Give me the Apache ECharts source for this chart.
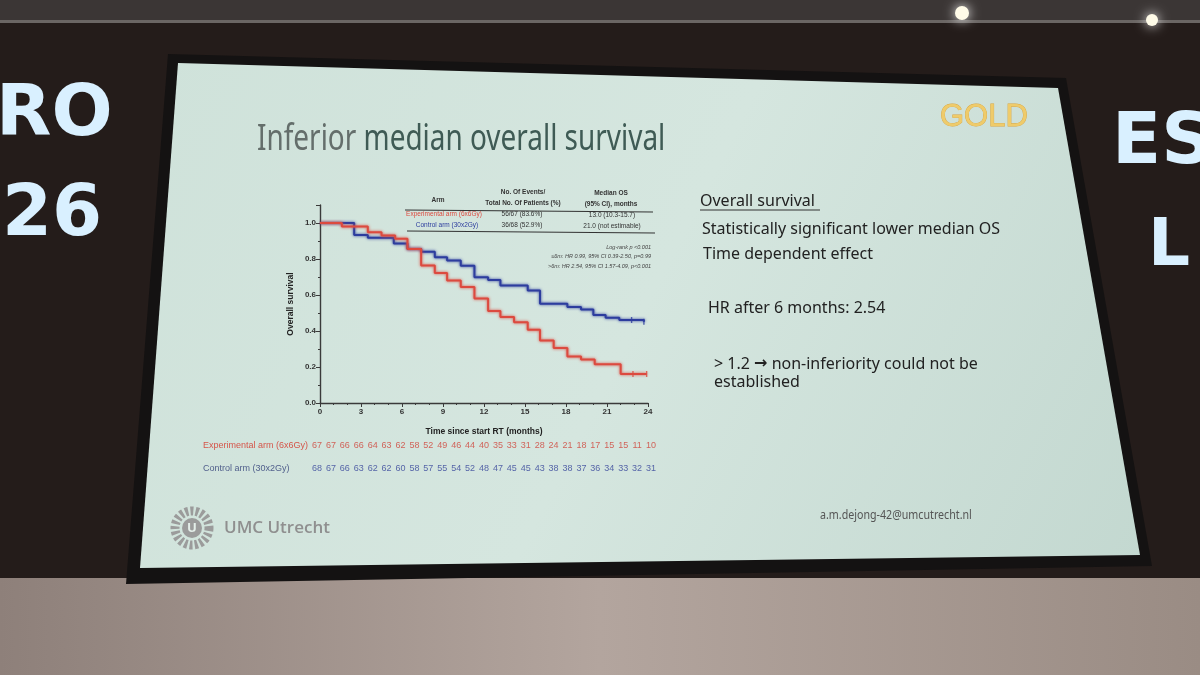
<!DOCTYPE html>
<html>
<head>
<meta charset="utf-8">
<title>Inferior median overall survival</title>
<script src="https://cdn.jsdelivr.net/npm/echarts@6/dist/echarts.min.js"></script>
<style>
html, body { margin: 0; padding: 0; background: #241c1a; }
#main { width: 1200px; height: 675px; }
</style>
</head>
<body>
<div id="main"></div>
<script>
// Kaplan-Meier steps (months, overall survival)
var redTimes = [0, 1.6, 3.5, 4.5, 5.5, 6.4, 7.4, 8.4, 9.3, 10.3, 11.3, 12.3, 13.2, 14.2, 15.2, 16.1, 17.1, 18.1, 19.1, 20.1, 22.0, 23.9];
var redSurv = [1.0, 0.981, 0.949, 0.930, 0.912, 0.855, 0.764, 0.722, 0.680, 0.645, 0.581, 0.511, 0.478, 0.448, 0.407, 0.347, 0.305, 0.258, 0.242, 0.215, 0.161, 0.161];
var blueTimes = [0, 2.5, 3.5, 5.4, 6.4, 7.4, 8.4, 9.3, 10.3, 11.3, 12.3, 13.2, 15.2, 16.1, 18.1, 19.1, 20.0, 20.9, 21.9, 23.7];
var blueSurv = [1.0, 0.933, 0.918, 0.886, 0.855, 0.840, 0.810, 0.792, 0.762, 0.699, 0.684, 0.653, 0.625, 0.552, 0.533, 0.519, 0.489, 0.474, 0.461, 0.452];
var redCensor = [22.9, 23.9];
var blueCensor = [22.8, 23.7];

// numbers at risk
var riskMonths = [0, 1, 2, 3, 4, 5, 6, 7, 8, 9, 10, 11, 12, 13, 14, 15, 16, 17, 18, 19, 20, 21, 22, 23, 24];
var redAtRisk = [67, 67, 66, 66, 64, 63, 62, 58, 52, 49, 46, 44, 40, 35, 33, 31, 28, 24, 21, 18, 17, 15, 15, 11, 10];
var blueAtRisk = [68, 67, 66, 63, 62, 62, 60, 58, 57, 55, 54, 52, 48, 47, 45, 45, 43, 38, 38, 37, 36, 34, 33, 32, 31];
var armNames = ['Control arm (30x2Gy)', 'Experimental arm (6x6Gy)'];

// summary table
var tableArms = ['Experimental arm (6x6Gy)', 'Control arm (30x2Gy)'];
var tableEvents = ['56/67 (83.6%)', '36/68 (52.9%)'];
var tableMedian = ['13.0 (10.3-15.7)', '21.0 (not estimable)'];
var statLines = ['Log-rank p <0.001', '\u22646m: HR 0.99, 95% CI 0.39-2.50, p=0.99', '>6m: HR 2.54, 95% CI 1.57-4.09, p<0.001'];

var RED = '#dc4a3f';
var BLUE = '#2d3d9e';

function pairs(xs, ys) {
    return xs.map(function (x, i) { return [x, ys[i]]; });
}
// survival at a given time, from the step data
function survAt(times, surv, t) {
    var v = surv[0];
    for (var i = 0; i < times.length; i++) {
        if (times[i] <= t) v = surv[i];
    }
    return v;
}

var myChart = echarts.init(document.getElementById('main'));

var glow = { fill: '#d9f0ff', shadowBlur: 18, shadowColor: '#5fb4ff' };
function glowText(x, y, s, size) {
    return { type: 'text', left: x, top: y, z: -9, style: Object.assign({ text: s, font: 'bold ' + size + 'px "DejaVu Sans"' }, glow) };
}

var graphics = [
    // stage
    { type: 'rect', shape: { x: 0, y: 0, width: 1200, height: 20 }, style: { fill: '#3b3635' }, z: -10 },
    { type: 'rect', shape: { x: 0, y: 20, width: 1200, height: 3 }, style: { fill: '#6b6664' }, z: -10 },
    { type: 'circle', shape: { cx: 962, cy: 13, r: 7 }, style: { fill: '#fffbe8', shadowBlur: 12, shadowColor: '#fff' }, z: -9 },
    { type: 'circle', shape: { cx: 1152, cy: 20, r: 6 }, style: { fill: '#fffbe8', shadowBlur: 12, shadowColor: '#fff' }, z: -9 },
    {
        type: 'rect', shape: { x: 0, y: 578, width: 1200, height: 97 }, z: -10,
        style: { fill: new echarts.graphic.LinearGradient(0, 0, 1, 0, [
            { offset: 0, color: '#8e807a' }, { offset: 0.5, color: '#b3a59e' }, { offset: 1, color: '#9a8c84' }
        ]) }
    },
    glowText(-4, 80, 'RO', 72),
    glowText(2, 180, '26', 72),
    glowText(1112, 108, 'ES', 72),
    glowText(1148, 215, 'L', 66),
    // screen frame and slide
    { type: 'polygon', shape: { points: [[168, 54], [1066, 78], [1152, 566], [126, 584]] }, style: { fill: '#141212' }, z: -8 },
    {
        type: 'polygon', shape: { points: [[178, 63], [1058, 88], [1140, 555], [140, 568]] }, z: -7,
        style: { fill: new echarts.graphic.LinearGradient(0, 0, 1, 1, [
            { offset: 0, color: '#cfe2da' }, { offset: 0.5, color: '#d5e6df' }, { offset: 1, color: '#c3d8d0' }
        ]) }
    },
    // slide title and logo
    {
        type: 'text', x: 257, y: 139, scaleX: 0.755,
        style: {
            text: '{g|Inferior }{t|median overall survival}',
            verticalAlign: 'middle',
            rich: {
                g: { font: '37px "Noto Sans"', fill: '#646e6b', color: '#646e6b' },
                t: { font: '37px "Noto Sans"', fill: '#3f5b55', color: '#3f5b55' }
            }
        }
    },
    { type: 'text', x: 940, y: 117, style: { text: 'GOLD', font: '31px "Liberation Sans"', fill: '#efcb6a', stroke: '#d9a640', lineWidth: 0.8, verticalAlign: 'middle' } },
    // table
    { type: 'text', x: 438, y: 200, style: { text: 'Arm', font: 'bold 6.5px "Liberation Sans"', fill: '#333', align: 'center', verticalAlign: 'middle' } },
    { type: 'text', x: 523, y: 192, style: { text: 'No. Of Events/', font: 'bold 6.5px "Liberation Sans"', fill: '#333', align: 'center', verticalAlign: 'middle' } },
    { type: 'text', x: 523, y: 203, style: { text: 'Total No. Of Patients (%)', font: 'bold 6.5px "Liberation Sans"', fill: '#333', align: 'center', verticalAlign: 'middle' } },
    { type: 'text', x: 611, y: 193, style: { text: 'Median OS', font: 'bold 6.5px "Liberation Sans"', fill: '#333', align: 'center', verticalAlign: 'middle' } },
    { type: 'text', x: 611, y: 204, style: { text: '(95% CI), months', font: 'bold 6.5px "Liberation Sans"', fill: '#333', align: 'center', verticalAlign: 'middle' } },
    { type: 'line', shape: { x1: 405, y1: 210, x2: 653, y2: 212 }, style: { stroke: '#333', lineWidth: 1.2 } },
    { type: 'line', shape: { x1: 407, y1: 231, x2: 655, y2: 233 }, style: { stroke: '#333', lineWidth: 1.2 } },
    // right-hand text
    { type: 'text', x: 700, y: 201, style: { text: 'Overall survival', font: '16px "Noto Sans"', fill: '#222', verticalAlign: 'middle' } },
    { type: 'line', shape: { x1: 700, y1: 210, x2: 820, y2: 210 }, style: { stroke: '#333', lineWidth: 1 } },
    { type: 'text', x: 702, y: 229, style: { text: 'Statistically significant lower median OS', font: '16px "Noto Sans"', fill: '#222', verticalAlign: 'middle' } },
    { type: 'text', x: 703, y: 254, style: { text: 'Time dependent effect', font: '16px "Noto Sans"', fill: '#222', verticalAlign: 'middle' } },
    { type: 'text', x: 708, y: 308, style: { text: 'HR after 6 months: 2.54', font: '16px "Noto Sans"', fill: '#222', verticalAlign: 'middle' } },
    {
        type: 'text', x: 714, y: 364,
        style: {
            text: '{a|> 1.2 }{b|\u2192}{a| non-inferiority could not be}',
            verticalAlign: 'middle',
            rich: {
                a: { font: '16px "Noto Sans"', fill: '#222', color: '#222' },
                b: { font: 'bold 16px "DejaVu Sans"', fill: '#222', color: '#222' }
            }
        }
    },
    { type: 'text', x: 714, y: 382, style: { text: 'established', font: '16px "Noto Sans"', fill: '#222', verticalAlign: 'middle' } },
    // footer
    { type: 'circle', shape: { cx: 192, cy: 528, r: 17 }, style: { fill: 'none', stroke: '#9b9b9b', lineWidth: 9, lineDash: [3, 2.2] } },
    { type: 'circle', shape: { cx: 192, cy: 528, r: 10 }, style: { fill: '#9b9b9b' } },
    { type: 'text', x: 192, y: 528, style: { text: 'U', font: 'bold 13px "Open Sans"', fill: '#e4eee9', align: 'center', verticalAlign: 'middle' } },
    { type: 'text', x: 224, y: 528, style: { text: 'UMC Utrecht', font: '600 17px "Open Sans"', fill: '#8f8f8f', verticalAlign: 'middle' } },
    { type: 'text', x: 820, y: 515, scaleX: 0.82, style: { text: 'a.m.dejong-42@umcutrecht.nl', font: '13px "Noto Sans"', fill: '#555', verticalAlign: 'middle' } }
];

tableArms.forEach(function (name, i) {
    var y = 214 + i * 11;
    graphics.push({ type: 'text', x: 444 + i * 3, y: y, style: { text: name, font: '6.5px "Liberation Sans"', fill: i === 0 ? RED : BLUE, align: 'center', verticalAlign: 'middle' } });
    graphics.push({ type: 'text', x: 522, y: y, style: { text: tableEvents[i], font: '6.5px "Liberation Sans"', fill: '#333', align: 'center', verticalAlign: 'middle' } });
    graphics.push({ type: 'text', x: 612, y: y + 1, style: { text: tableMedian[i], font: '6.5px "Liberation Sans"', fill: '#333', align: 'center', verticalAlign: 'middle' } });
});
statLines.forEach(function (s, i) {
    graphics.push({ type: 'text', x: 651, y: 247 + i * 9.5, style: { text: s, font: 'italic 5.5px "Liberation Sans"', fill: '#444', align: 'right', verticalAlign: 'middle' } });
});

function kmSeries(times, surv, color) {
    return {
        type: 'line', step: 'end', symbol: 'none',
        xAxisIndex: 0, yAxisIndex: 0,
        data: pairs(times, surv),
        lineStyle: { color: color, width: 2, shadowBlur: 3, shadowColor: color },
        z: 3
    };
}
function censorSeries(marks, times, surv, color) {
    return {
        type: 'scatter', symbol: 'rect', symbolSize: [1.4, 6],
        xAxisIndex: 0, yAxisIndex: 0,
        data: marks.map(function (t) { return [t, survAt(times, surv, t)]; }),
        itemStyle: { color: color },
        z: 4
    };
}
function riskSeries(counts, arm, color) {
    return {
        type: 'scatter', symbolSize: 0,
        xAxisIndex: 1, yAxisIndex: 1,
        data: riskMonths.map(function (m, i) { return [m, arm, counts[i]]; }),
        label: {
            show: true, position: 'inside', color: color,
            fontSize: 9, fontFamily: 'Liberation Sans',
            formatter: function (p) { return p.value[2]; }
        }
    };
}

myChart.setOption({
    backgroundColor: '#241c1a',
    animation: false,
    textStyle: { fontFamily: 'Liberation Sans' },
    graphic: graphics,
    grid: [
        { left: 320, right: 552, top: 205, bottom: 272 },
        { left: 317, right: 549, top: 434, height: 46 }
    ],
    xAxis: [
        {
            gridIndex: 0, type: 'value', min: 0, max: 24, interval: 3,
            name: 'Time since start RT (months)', nameLocation: 'middle', nameGap: 24,
            nameTextStyle: { fontSize: 8.5, fontWeight: 'bold', color: '#222' },
            axisLine: { lineStyle: { color: '#3a3a3a', width: 1.4 } },
            axisTick: { length: 4, lineStyle: { color: '#3a3a3a' } },
            minorTick: { show: true, splitNumber: 3, length: 2, lineStyle: { color: '#3a3a3a' } },
            axisLabel: { fontSize: 8, fontWeight: 'bold', color: '#333', margin: 5 },
            splitLine: { show: false }
        },
        {
            gridIndex: 1, type: 'value', min: 0, max: 24, show: false
        }
    ],
    yAxis: [
        {
            gridIndex: 0, type: 'value', min: 0, max: 1.1, interval: 0.2,
            name: 'Overall survival', nameLocation: 'middle', nameGap: 25,
            nameTextStyle: { fontSize: 8.5, fontWeight: 'bold', color: '#222' },
            axisLine: { show: true, lineStyle: { color: '#3a3a3a', width: 1.4 } },
            axisTick: { show: true, length: 4, lineStyle: { color: '#3a3a3a' } },
            minorTick: { show: true, splitNumber: 2, length: 2, lineStyle: { color: '#3a3a3a' } },
            axisLabel: {
                fontSize: 8, fontWeight: 'bold', color: '#333', margin: 4,
                formatter: function (v) {
                    return Math.abs(v * 5 - Math.round(v * 5)) < 1e-6 ? v.toFixed(1) : '';
                }
            },
            splitLine: { show: false }
        },
        {
            gridIndex: 1, type: 'category', data: armNames,
            axisLine: { show: false }, axisTick: { show: false },
            axisLabel: {
                align: 'left', margin: 114, fontSize: 9,
                formatter: function (v) {
                    return v === armNames[1] ? '{r|' + v + '}' : '{b|' + v + '}';
                },
                rich: {
                    r: { color: '#d5554a', fontSize: 9 },
                    b: { color: '#51608c', fontSize: 9 }
                }
            }
        }
    ],
    series: [
        kmSeries(blueTimes, blueSurv, BLUE),
        kmSeries(redTimes, redSurv, RED),
        censorSeries(blueCensor, blueTimes, blueSurv, BLUE),
        censorSeries(redCensor, redTimes, redSurv, RED),
        riskSeries(redAtRisk, armNames[1], '#cf4238'),
        riskSeries(blueAtRisk, armNames[0], '#34449a')
    ]
});
</script>
</body>
</html>
